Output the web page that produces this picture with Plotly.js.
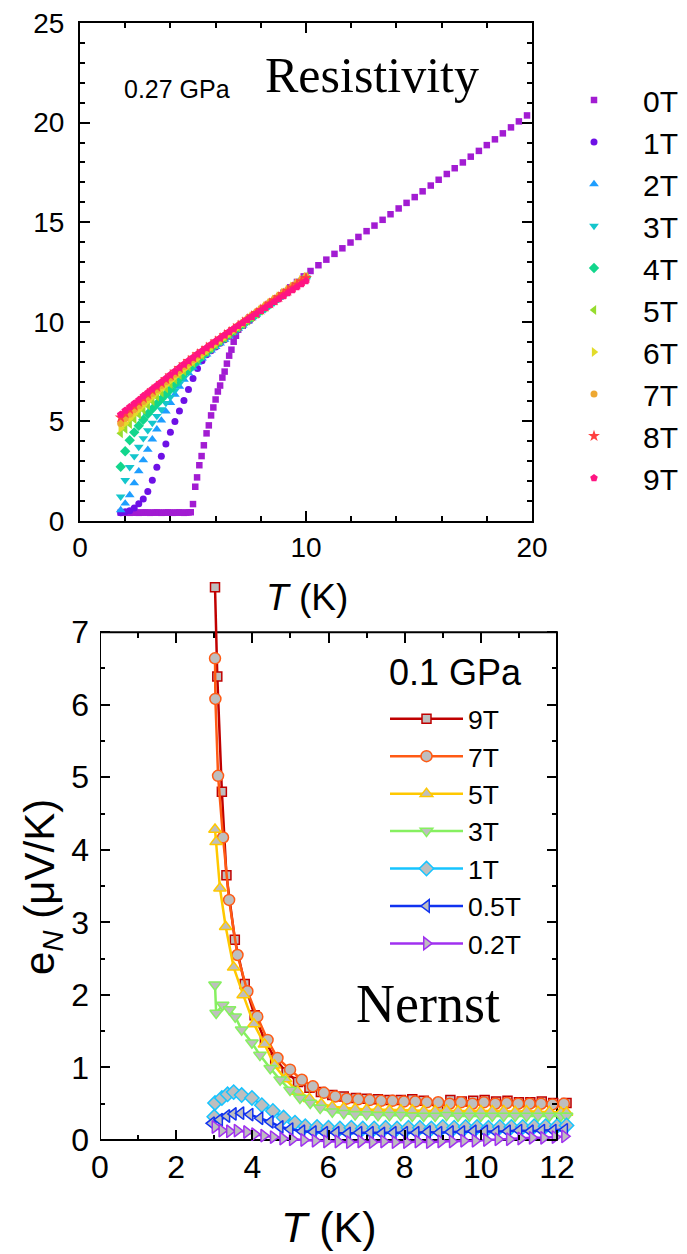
<!DOCTYPE html>
<html><head><meta charset="utf-8">
<script src="https://cdn.plot.ly/plotly-3.0.1.min.js"></script>
<style>html,body{margin:0;padding:0;background:#fff}</style>
</head><body><div id="chart" style="width:687px;height:1254px"></div>
<script>
// ===== Top panel: resistivity, 0.27 GPa =====
const resLabels = ['0T','1T','2T','3T','4T','5T','6T','7T','8T','9T'];
const resT0 = [1.8,1.9,2.0,2.1,2.2,2.3,2.4,2.5,2.6,2.7,2.8,2.9,3.0,3.1,3.2,3.3,3.4,3.5,3.6,3.7,3.8,3.9,4.0,4.1,4.2,4.3,4.4,4.5,4.6,4.7,4.8,4.9,
  5.0,5.1,5.18,5.28,5.38,5.48,5.6,5.7,5.8,5.9,6.0,6.1,6.2,6.3,6.4,6.5,6.6,6.7,6.8,6.9,7.0,
  7.2,7.5,7.8,8.1,8.4,8.7,9.0,9.3,9.6,9.9,
  10.2,10.55,10.9,11.26,11.61,11.97,12.32,12.68,13.03,13.39,13.74,14.1,14.45,14.81,15.16,15.52,15.87,16.23,16.58,16.94,17.29,17.65,18.0,18.36,18.71,19.07,19.42,19.78];
const resRho0 = [0.42,0.41,0.43,0.42,0.41,0.42,0.43,0.42,0.41,0.42,0.42,0.43,0.42,0.41,0.42,0.42,0.43,0.42,0.41,0.42,0.42,0.43,0.42,0.41,0.42,0.42,0.43,0.42,0.41,0.42,0.43,0.44,
  0.85,1.72,2.19,2.8,3.26,3.8,4.4,4.8,5.3,5.7,6.1,6.5,6.8,7.2,7.5,7.9,8.3,8.6,9.0,9.3,9.6,
  9.8,10.08,10.36,10.63,10.91,11.18,11.46,11.73,12.0,12.28,
  12.55,12.84,13.12,13.41,13.69,13.98,14.26,14.55,14.83,15.12,15.4,15.69,15.97,16.26,16.55,16.84,17.13,17.42,17.71,18.0,18.29,18.58,18.87,19.16,19.46,19.76,20.06,20.36];
const resTField = [1.8,2.0,2.2,2.4,2.6,2.8,3.0,3.2,3.4,3.6,3.8,4.0,4.2,4.4,4.6,4.8,5.0,5.2,5.4,5.6,5.8,6.0,6.2,6.4,6.6,6.8,7.0,7.2,7.4,7.6,7.8,8.0,8.2,8.4,8.6,8.8,9.0,9.2,9.4,9.6,9.8,10.0];
const resRho1 = [0.42,0.47,0.52,0.65,0.87,1.1,1.48,2.05,2.7,3.25,3.87,4.45,5.0,5.52,6.05,6.6,7.15,7.65,8.05,8.35,8.55,8.74,8.92,9.1,9.28,9.46,9.64,9.82,10.0,10.18,10.36,10.54,10.71,10.88,11.05,11.22,11.39,11.56,11.73,11.9,12.07,12.24];
const resRho2 = [0.55,0.88,1.3,1.9,2.5,3.05,3.58,4.1,4.6,5.05,5.5,5.93,6.35,6.75,7.1,7.42,7.7,7.95,8.17,8.37,8.56,8.74,8.92,9.1,9.28,9.46,9.64,9.82,10.0,10.18,10.36,10.54,10.71,10.88,11.05,11.22,11.39,11.56,11.73,11.9,12.07,12.24];
const resRho3 = [1.22,2.05,2.7,3.25,3.72,4.15,4.55,4.92,5.27,5.6,5.92,6.22,6.55,6.9,7.2,7.47,7.73,7.97,8.2,8.41,8.61,8.8,8.98,9.16,9.34,9.51,9.68,9.85,10.02,10.19,10.36,10.53,10.7,10.87,11.04,11.21,11.38,11.55,11.72,11.89,12.06,12.23];
const resRho4 = [2.72,3.5,4.05,4.45,4.78,5.08,5.37,5.63,5.88,6.12,6.36,6.6,6.88,7.15,7.4,7.63,7.85,8.06,8.27,8.47,8.66,8.85,9.03,9.2,9.37,9.54,9.71,9.88,10.05,10.22,10.39,10.56,10.72,10.88,11.04,11.2,11.37,11.54,11.71,11.88,12.05,12.22];
const resRho5 = [4.4,4.62,4.87,5.11,5.35,5.58,5.8,6.02,6.24,6.45,6.66,6.87,7.1,7.32,7.53,7.74,7.94,8.13,8.32,8.5,8.68,8.86,9.03,9.2,9.37,9.54,9.71,9.88,10.05,10.22,10.39,10.56,10.73,10.9,11.07,11.24,11.41,11.58,11.75,11.92,12.09,12.26];
const resRho6 = [4.65,4.9,5.13,5.36,5.58,5.8,6.01,6.22,6.43,6.63,6.83,7.03,7.23,7.42,7.61,7.8,7.99,8.17,8.35,8.53,8.71,8.89,9.06,9.23,9.4,9.57,9.74,9.92,10.1,10.27,10.44,10.61,10.78,10.95,11.12,11.29,11.46,11.62,11.78,11.94,12.1,12.26];
const resRho7 = [4.9,5.15,5.36,5.58,5.79,6.0,6.2,6.4,6.6,6.8,6.99,7.18,7.37,7.56,7.75,7.93,8.11,8.29,8.47,8.64,8.81,8.98,9.15,9.31,9.47,9.63,9.8,9.97,10.14,10.31,10.48,10.65,10.82,10.99,11.16,11.32,11.48,11.64,11.8,11.96,12.12,12.28];
const resRho8 = [5.2,5.41,5.6,5.79,5.98,6.18,6.37,6.56,6.74,6.93,7.12,7.31,7.5,7.68,7.86,8.03,8.2,8.37,8.53,8.69,8.85,9.01,9.17,9.33,9.49,9.64,9.8,9.96,10.12,10.28,10.44,10.6,10.76,10.92,11.08,11.24,11.4,11.56,11.72,11.88,12.04,12.2];
const resRho9 = [5.35,5.55,5.72,5.9,6.08,6.27,6.45,6.63,6.8,6.98,7.16,7.34,7.52,7.7,7.87,8.04,8.21,8.38,8.54,8.7,8.86,9.02,9.18,9.34,9.5,9.65,9.8,9.95,10.1,10.25,10.4,10.55,10.7,10.85,11.0,11.15,11.3,11.45,11.6,11.75,11.9,12.05];
const resColors = ['#A21CD2','#6E10E6','#1E9EFF','#14C6CC','#12D68C','#96DC2E','#E2DC2A','#EEA832','#FF4040','#FF1482'];
const resSymbols = ['square','circle','triangle-up','triangle-down','diamond','triangle-left','triangle-right','circle','star','pentagon'];
const resSizes = [6.5, 7, 8.5, 8.5, 8, 8.5, 8.5, 7, 9, 8];

// ===== Bottom panel: Nernst, 0.1 GPa =====
const nerLabels = ['9T','7T','5T','3T','1T','0.5T','0.2T'];
const nerT9 = [3.02,3.08,3.2,3.32,3.54,3.8,4.06,4.33,4.6,4.9,5.2,5.5,5.8,6.1,6.4,6.72,7.0,7.3,7.6,7.9,8.2,8.5,8.88,9.2,9.5,9.8,10.1,10.4,10.7,11.0,11.3,11.6,11.9,12.25];
const nerE9 = [7.62,6.39,4.8,3.65,2.76,2.15,1.72,1.37,1.12,0.93,0.8,0.72,0.66,0.62,0.6,0.58,0.57,0.56,0.55,0.55,0.56,0.54,0.45,0.55,0.53,0.54,0.55,0.53,0.54,0.52,0.52,0.53,0.51,0.51];
const nerT7 = [3.02,3.03,3.1,3.23,3.39,3.61,3.87,4.13,4.4,4.66,4.99,5.3,5.59,5.88,6.18,6.48,6.78,7.08,7.38,7.68,7.98,8.28,8.58,8.88,9.18,9.48,9.78,10.08,10.38,10.68,10.98,11.28,11.58,11.88,12.18];
const nerE7 = [6.64,6.08,5.02,4.17,3.31,2.55,2.05,1.7,1.38,1.13,0.97,0.83,0.74,0.65,0.6,0.57,0.56,0.55,0.54,0.54,0.53,0.53,0.52,0.52,0.5,0.52,0.5,0.52,0.5,0.51,0.5,0.5,0.5,0.49,0.5];
const nerT5 = [3.02,3.05,3.15,3.3,3.51,3.76,4.04,4.32,4.58,4.87,5.19,5.5,5.81,6.1,6.4,6.7,7.0,7.3,7.6,7.9,8.2,8.5,8.8,9.1,9.4,9.7,10.0,10.3,10.6,10.9,11.2,11.5,11.8,12.1,12.25];
const nerE5 = [4.28,4.11,3.47,2.94,2.38,2.0,1.6,1.32,1.03,0.84,0.67,0.57,0.5,0.46,0.44,0.43,0.42,0.42,0.41,0.41,0.41,0.4,0.4,0.41,0.4,0.4,0.4,0.4,0.4,0.39,0.4,0.39,0.39,0.38,0.38];
const nerT3 = [3.02,3.05,3.22,3.4,3.55,3.72,3.99,4.2,4.47,4.73,4.99,5.25,5.52,5.78,6.1,6.4,6.7,7.0,7.3,7.6,7.9,8.2,8.5,8.8,9.1,9.4,9.7,10.0,10.3,10.6,10.9,11.2,11.5,11.8,12.1,12.25];
const nerE3 = [2.14,1.75,1.86,1.8,1.7,1.52,1.34,1.17,0.99,0.83,0.69,0.58,0.51,0.44,0.39,0.37,0.35,0.35,0.34,0.34,0.34,0.33,0.33,0.33,0.34,0.33,0.33,0.33,0.33,0.33,0.33,0.33,0.33,0.33,0.33,0.33];
const nerT1 = [3.0,3.02,3.2,3.35,3.51,3.72,3.99,4.25,4.54,4.82,5.12,5.39,5.7,6.0,6.3,6.6,6.9,7.2,7.5,7.8,8.1,8.4,8.7,9.0,9.3,9.6,9.9,10.2,10.5,10.8,11.1,11.4,11.7,12.0,12.25];
const nerE1 = [0.32,0.51,0.58,0.63,0.66,0.62,0.58,0.48,0.4,0.31,0.24,0.19,0.18,0.17,0.16,0.17,0.16,0.16,0.17,0.16,0.17,0.17,0.16,0.18,0.17,0.18,0.18,0.17,0.18,0.18,0.18,0.19,0.19,0.19,0.2];
const nerT05 = [2.93,3.14,3.33,3.5,3.7,3.94,4.2,4.47,4.73,4.99,5.3,5.6,5.9,6.2,6.5,6.8,7.1,7.4,7.7,8.0,8.3,8.6,8.9,9.2,9.5,9.8,10.1,10.4,10.7,11.0,11.3,11.6,11.9,12.2];
const nerE05 = [0.23,0.28,0.33,0.36,0.37,0.35,0.3,0.25,0.18,0.15,0.12,0.11,0.1,0.1,0.09,0.1,0.1,0.09,0.1,0.1,0.1,0.11,0.1,0.11,0.11,0.12,0.12,0.11,0.12,0.13,0.12,0.13,0.13,0.14];
const nerT02 = [3.02,3.2,3.4,3.6,3.85,4.06,4.3,4.55,4.8,5.05,5.35,5.65,5.95,6.25,6.55,6.85,7.15,7.45,7.75,8.05,8.35,8.65,8.95,9.25,9.55,9.85,10.15,10.45,10.75,11.05,11.35,11.65,11.95,12.2];
const nerE02 = [0.18,0.13,0.12,0.13,0.11,0.08,0.06,0.04,0.02,0.01,0.0,-0.01,-0.02,-0.02,-0.03,-0.02,-0.03,-0.02,-0.03,-0.03,-0.02,-0.03,-0.02,-0.02,-0.01,-0.01,0.0,0.01,0.01,0.02,0.03,0.03,0.04,0.05];
const nerColors = ['#C00000','#FF5A14','#FFC800','#86F060','#16C4FF','#1032F0','#A030F0'];
const nerSymbols = ['square','circle','triangle-up','triangle-down','diamond','triangle-left','triangle-right'];

// ===== layout geometry (pixels) =====
const W = 687, H = 1254;
const px = v => v / W, py = v => 1 - v / H;
const SANS = 'Liberation Sans, Arial, sans-serif';
const SERIF = 'Liberation Serif, Times New Roman, serif';
// bottom panel: x=0 at 100px, x=12 at 557px; y=0 at 1140px, y=7 at 632.2px
const bx0 = 100, bxs = (557 - 100) / 12, by0 = 1140, bys = (1140 - 632.2) / 7;
const bXr = [0, 12.35], bYr = [-0.09, 7.75];

const resX = [resT0].concat(Array(9).fill(resTField));
const resY = [resRho0, resRho1, resRho2, resRho3, resRho4, resRho5, resRho6, resRho7, resRho8, resRho9];
const traces = [];
resLabels.forEach((lab, i) => {
  traces.push({
    type: 'scatter', mode: 'markers', name: lab, x: resX[i], y: resY[i],
    xaxis: 'x', yaxis: 'y', legend: 'legend',
    marker: {symbol: resSymbols[i], color: resColors[i], size: resSizes[i], line: {width: 0}}
  });
});
const nerX = [nerT9, nerT7, nerT5, nerT3, nerT1, nerT05, nerT02];
const nerY = [nerE9, nerE7, nerE5, nerE3, nerE1, nerE05, nerE02];
nerLabels.forEach((lab, i) => {
  traces.push({
    type: 'scatter', mode: 'lines+markers', name: lab, x: nerX[i], y: nerY[i],
    xaxis: 'x2', yaxis: 'y2', legend: 'legend2', cliponaxis: false,
    line: {color: nerColors[i], width: 2.5},
    marker: {symbol: nerSymbols[i], color: '#BEBEBE', size: i === 0 ? 9 : 11, line: {color: nerColors[i], width: 1.5}}
  });
});
traces.push({type: 'scatter', x: [], y: [], xaxis: 'x3', yaxis: 'y2', showlegend: false, hoverinfo: 'skip'});
traces.push({type: 'scatter', x: [], y: [], xaxis: 'x2', yaxis: 'y3', showlegend: false, hoverinfo: 'skip'});

const axBase = {showgrid: false, zeroline: false, ticks: 'inside', tickwidth: 2, tickcolor: '#000', linecolor: '#000', linewidth: 2};
const minorX = {dtick: 1, ticklen: 5, tickwidth: 2, ticks: 'inside', tickcolor: '#000'};
const minorY = {tickvals: [0.5, 1.5, 2.5, 3.5, 4.5, 5.5, 6.5], ticklen: 5, tickwidth: 2, ticks: 'inside', tickcolor: '#000'};
const ann = (text, x, y, size, family, extra) => Object.assign({text: text, x: px(x), y: py(y), xref: 'paper', yref: 'paper',
  xanchor: 'center', yanchor: 'middle', showarrow: false, font: {size: size, family: family, color: '#000'}}, extra || {});
const layout = {
  width: W, height: H, margin: {l: 0, r: 0, t: 0, b: 0},
  paper_bgcolor: '#fff', plot_bgcolor: '#fff', showlegend: true,
  font: {family: SANS, color: '#000'},
  xaxis: Object.assign({}, axBase, {domain: [px(80), px(532)], range: [0, 20], dtick: 10, ticklen: 10,
    minor: {dtick: 2, ticklen: 5, tickwidth: 2, ticks: 'inside', tickcolor: '#000'},
    showline: true, mirror: 'ticks', anchor: 'y', tickfont: {size: 28, family: SANS}, ticklabelstandoff: 0}),
  yaxis: Object.assign({}, axBase, {domain: [py(521), py(23)], range: [0, 25], dtick: 5, ticklen: 10,
    minor: {dtick: 1, ticklen: 5, tickwidth: 2, ticks: 'inside', tickcolor: '#000'},
    showline: true, mirror: 'ticks', anchor: 'x', tickfont: {size: 28, family: SANS}, ticklabelstandoff: 8}),
  xaxis2: Object.assign({}, axBase, {domain: [px(bx0 + bXr[0] * bxs), px(bx0 + bXr[1] * bxs)], range: bXr, dtick: 2, ticklen: 10,
    minor: minorX, showline: false, anchor: 'free', position: py(by0), tickfont: {size: 32, family: SANS}, ticklabelstandoff: 5}),
  yaxis2: Object.assign({}, axBase, {domain: [py(by0 - bYr[0] * bys), py(by0 - bYr[1] * bys)], range: bYr,
    tickvals: [0, 1, 2, 3, 4, 5, 6, 7], ticklen: 10, minor: minorY,
    showline: false, anchor: 'x2', tickfont: {size: 32, family: SANS}, ticklabelstandoff: 10}),
  xaxis3: Object.assign({}, axBase, {overlaying: 'x2', anchor: 'free', position: py(by0 - 7 * bys), side: 'top',
    range: bXr, dtick: 2, ticklen: 10, showticklabels: false, showline: false, minor: minorX}),
  yaxis3: Object.assign({}, axBase, {overlaying: 'y2', anchor: 'free', position: px(bx0 + 12 * bxs), side: 'right',
    range: bYr, tickvals: [0, 1, 2, 3, 4, 5, 6, 7], ticklen: 10, showticklabels: false, showline: false, minor: minorY}),
  shapes: [{type: 'rect', xref: 'x2', yref: 'y2', x0: 0, x1: 12, y0: 0, y1: 7, line: {color: '#000', width: 2}, layer: 'below'}],
  legend: {x: px(545), y: py(74), xanchor: 'left', yanchor: 'top', bgcolor: 'rgba(0,0,0,0)',
    font: {size: 30, family: SANS}, itemwidth: 88, tracegroupgap: 0},
  legend2: {x: px(385), y: py(695), xanchor: 'left', yanchor: 'top', bgcolor: 'rgba(0,0,0,0)', itemwidth: 73,
    font: {size: 26.5, family: SANS}},
  annotations: [
    ann('0.27 GPa', 177, 89, 25, SANS),
    ann('Resistivity', 372, 75, 50, SERIF),
    ann('0.1 GPa', 387, 672, 36, SANS, {xanchor: 'left'}),
    ann('Nernst', 428, 1004, 54, SERIF),
    ann('<i>T</i> (K)', 307, 597, 37, SANS),
    ann('<i>T</i> (K)', 329, 1227, 43, SANS),
    ann('e<sub><i>N</i></sub> (μV/K)', 42, 887, 42, SANS, {textangle: -90})
  ]
};
Plotly.newPlot('chart', traces, layout, {staticPlot: true, displayModeBar: false});
</script></body></html>
